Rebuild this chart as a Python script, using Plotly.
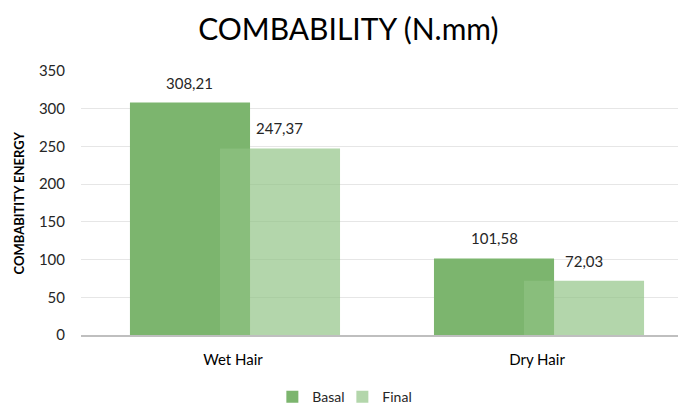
import plotly.graph_objects as go

categories = ["Wet Hair", "Dry Hair"]
basal = [308.21, 101.58]
final = [247.37, 72.03]
y_ticks = [0, 50, 100, 150, 200, 250, 300, 350]
y_title = "COMBABITITY ENERGY"

def fmt(v):
    return f"{v:.2f}".replace(".", ",")

BAR_W = 0.395
OFF_B = -0.339
OFF_F = -0.043

fig = go.Figure()
fig.add_trace(go.Bar(
    x=categories, y=basal, name="Basal",
    marker=dict(color="rgb(124,181,110)", line=dict(width=0)),
    width=BAR_W, offset=OFF_B,
))
fig.add_trace(go.Bar(
    x=categories, y=final, name="Final",
    marker=dict(color="rgba(143,195,131,0.68)", line=dict(width=0)),
    width=BAR_W, offset=OFF_F,
))

annotations = []
for i, (b, f) in enumerate(zip(basal, final)):
    for v, off in ((b, OFF_B), (f, OFF_F)):
        annotations.append(dict(
            x=i + off + BAR_W / 2, y=v, xref="x", yref="y", text=fmt(v),
            showarrow=False, yshift=20, yanchor="middle",
            font=dict(size=15, color="#262626"),
        ))
annotations.append(dict(
    x=-0.1017, y=0.5, xref="paper", yref="paper", text="<b>" + y_title + "</b>",
    textangle=-90, showarrow=False, xanchor="center", yanchor="middle",
    font=dict(size=13, color="#000000"),
))

# figure is drawn inside the page's default 8px body margin
fig.update_layout(
    width=678, height=399,
    barmode="overlay",
    paper_bgcolor="white", plot_bgcolor="white",
    font=dict(family="Lato, 'Open Sans', sans-serif", color="#404040"),
    margin=dict(l=73, r=0, t=63, b=72, autoexpand=False),
    title=dict(text="COMBABILITY (N.mm)", x=0.502, xanchor="center", y=0.945, yanchor="middle",
               font=dict(size=30, color="#000000")),
    showlegend=True,
    legend=dict(orientation="h", x=0.432, xanchor="center", y=-0.235, yanchor="middle",
                font=dict(size=14, color="#262626"), traceorder="normal",
                itemwidth=30, tracegroupgap=0, entrywidth=25, entrywidthmode="pixels"),
    annotations=annotations,
)
fig.update_yaxes(
    range=[0, 350], tickvals=y_ticks, showgrid=True, gridcolor="#e6e6e6", gridwidth=1,
    zeroline=False, showline=False, tickfont=dict(size=15, color="#262626"),
    ticks="", ticklabelstandoff=15,
)
fig.update_xaxes(
    range=[-0.5, 1.490],
    showline=True, linecolor="#bfbfbf", linewidth=2, showgrid=False,
    tickfont=dict(size=15, color="#000000"), ticks="", ticklabelstandoff=10,
)
fig.write_html("out.html")
